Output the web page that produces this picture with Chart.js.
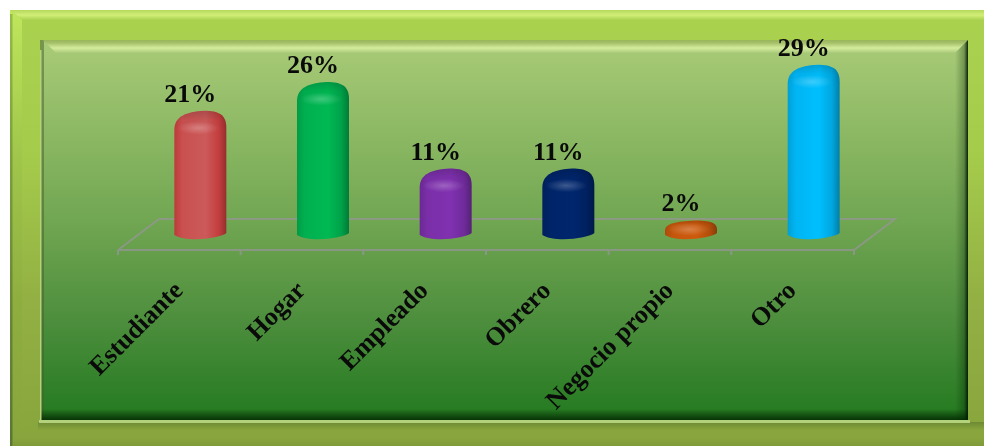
<!DOCTYPE html>
<html lang="es">
<head>
    <meta charset="UTF-8">
    <title>Ocupación</title>
    <script src="https://cdn.jsdelivr.net/npm/chart.js"></script>
    <style>
        html, body { margin: 0; padding: 0; background: #fff; overflow: hidden; }
        #wrap { position: relative; width: 984px; height: 446px; }
    </style>
</head>
<body>
    <div id="wrap"><canvas id="myChart" width="984" height="446"></canvas></div>
    <script>
        const categories = ['Estudiante', 'Hogar', 'Empleado', 'Obrero', 'Negocio propio', 'Otro'];
        const percentages = [21, 26, 11, 11, 2, 29];
        const barColors = ['#c9504f', '#00b050', '#7a2fa8', '#002468', '#c4560c', '#00b4f2'];

        const serif = '"Liberation Serif", "Times New Roman", serif';
        const shade = (c, k) => k > 0 ? Chart.helpers.color(c).lighten(k).rgbString() : Chart.helpers.color(c).darken(-k).rgbString();

        // bar element drawn as a standing cylinder with a rounded cap
        class CylinderElement extends Chart.BarElement {
            draw(ctx) {
                const { x, y, base, width } = this.getProps(['x', 'y', 'base', 'width']);
                const color = this.options.backgroundColor;
                const r = width / 2;
                const dome = Math.min(19, (base - y) * 0.85);
                const peak = x + r * 0.15;

                ctx.save();
                ctx.beginPath();
                ctx.moveTo(x - r, base + 3);
                ctx.lineTo(x - r, y + dome);
                ctx.bezierCurveTo(x - r, y + dome * 0.3, x - r * 0.55, y + 1, peak, y);
                ctx.bezierCurveTo(x + r * 0.7, y, x + r, y + dome * 0.2, x + r, y + dome * 0.9);
                ctx.lineTo(x + r, base + 1);
                ctx.bezierCurveTo(x + r * 0.8, base + 6, x - r * 0.5, base + 11, x - r, base + 3);
                ctx.closePath();

                const body = ctx.createLinearGradient(x - r, 0, x + r, 0);
                body.addColorStop(0, shade(color, -0.12));
                body.addColorStop(0.15, color);
                body.addColorStop(0.6, shade(color, 0.05));
                body.addColorStop(0.85, shade(color, -0.08));
                body.addColorStop(1, shade(color, -0.3));
                ctx.fillStyle = body;
                ctx.fill();
                ctx.clip();

                // darker rim along the top, soft glint just below it
                const rim = ctx.createLinearGradient(0, y, 0, y + dome);
                rim.addColorStop(0, 'rgba(0,0,0,0.16)');
                rim.addColorStop(0.5, 'rgba(0,0,0,0.03)');
                rim.addColorStop(1, 'rgba(0,0,0,0)');
                ctx.fillStyle = rim;
                ctx.fillRect(x - r, y, width, dome);

                ctx.translate(x - 2, y + dome * 0.9);
                ctx.scale(1, 0.32);
                const glint = ctx.createRadialGradient(0, 0, 0, 0, 0, r * 0.8);
                glint.addColorStop(0, 'rgba(255,255,255,0.24)');
                glint.addColorStop(1, 'rgba(255,255,255,0)');
                ctx.fillStyle = glint;
                ctx.fillRect(-r, -r, width, width);
                ctx.restore();
            }
        }
        CylinderElement.id = 'cylinder';
        CylinderElement.defaults = Chart.BarElement.defaults;
        CylinderElement.defaultRoutes = Chart.BarElement.defaultRoutes;

        class CylinderController extends Chart.BarController {}
        CylinderController.id = 'cylinder';
        CylinderController.defaults = Object.assign({}, Chart.BarController.defaults, { dataElementType: 'cylinder' });
        CylinderController.overrides = Chart.BarController.overrides;
        Chart.register(CylinderElement, CylinderController);

        function polygon(ctx, pts, fill) {
            ctx.beginPath();
            pts.forEach((p, i) => i ? ctx.lineTo(p[0], p[1]) : ctx.moveTo(p[0], p[1]));
            ctx.closePath();
            ctx.fillStyle = fill;
            ctx.fill();
        }

        function vGrad(ctx, y0, y1, stops) {
            const g = ctx.createLinearGradient(0, y0, 0, y1);
            stops.forEach((s, i) => g.addColorStop(i / (stops.length - 1), s));
            return g;
        }

        // beveled lime frame and the green panel behind the plot
        const panelPlugin = {
            id: 'panelPlugin',
            beforeDraw(chart) {
                const ctx = chart.ctx;
                const o = { l: 10, t: 10, r: 984, b: 446 };
                const i = { l: 41, t: 40, r: 968, b: 420 };
                ctx.save();
                ctx.fillStyle = vGrad(ctx, o.t, o.b, ['#aad24f', '#a5cb4b', '#92b043', '#88a53d']);
                ctx.fillRect(o.l, o.t, o.r - o.l, o.b - o.t);
                // top and left bevels of the frame
                polygon(ctx, [[o.l, o.t], [o.r, o.t], [o.r, o.t + 10], [o.l + 12, o.t + 10]], vGrad(ctx, o.t, o.t + 10, ['#b4d85a', '#d2ee78', '#aad24f']));
                polygon(ctx, [[o.l, o.t], [o.l + 12, o.t + 10], [o.l + 12, o.b], [o.l, o.b]], vGrad(ctx, o.t, o.b, ['#bfe65c', '#a0c64b', '#8fae40', '#88a53d']));
                ctx.fillStyle = vGrad(ctx, o.t, o.b, ['rgba(110,150,50,0.5)', 'rgba(80,105,50,0.8)']);
                ctx.fillRect(o.l, o.t + 4, 2.5, o.b - o.t - 4);
                // shadow cast below the panel, darker base strip
                ctx.fillStyle = vGrad(ctx, i.b + 2, i.b + 10, ['#6e8a33', '#88a53d']);
                ctx.fillRect(i.l - 3, i.b + 2, o.r - i.l + 3, 8);
                ctx.fillStyle = vGrad(ctx, 438, 446, ['#88a53d', '#7e9a38']);
                ctx.fillRect(o.l + 3, 438, o.r - o.l - 3, 8);

                // inner panel
                ctx.fillStyle = vGrad(ctx, i.t, i.b, ['#a9cb78', '#8cb863', '#6ea450', '#4b8d3c', '#237a1f']);
                ctx.fillRect(i.l, i.t, i.r - i.l, i.b - i.t);
                ctx.fillStyle = 'rgba(70,95,40,0.5)';
                ctx.fillRect(i.l - 1, i.t, 4, i.b - i.t);
                polygon(ctx, [[i.l + 2, i.t], [i.r, i.t], [i.r - 13, i.t + 13], [i.l + 15, i.t + 13]], vGrad(ctx, i.t - 2, i.t + 13, ['#8fae50', '#a6c16a', '#d4ec9c', '#a9ca7a']));
                const right = ctx.createLinearGradient(i.r - 13, 0, i.r, 0);
                right.addColorStop(0, 'rgba(0,30,0,0)');
                right.addColorStop(0.7, 'rgba(0,30,0,0.3)');
                right.addColorStop(1, 'rgba(0,25,0,0.95)');
                polygon(ctx, [[i.r, i.t], [i.r, i.b], [i.r - 13, i.b], [i.r - 13, i.t + 13]], right);
                ctx.fillStyle = vGrad(ctx, i.b - 11, i.b, ['rgba(0,30,0,0)', 'rgba(0,35,0,0.8)']);
                ctx.fillRect(i.l, i.b - 11, i.r - i.l, 11);
                // pale outline along the bottom and up the left side
                ctx.fillStyle = '#b4d27c';
                ctx.fillRect(i.l - 2, i.b, i.r - i.l + 4, 3);
                ctx.fillRect(i.l - 1, i.t + 10, 1.5, i.b - i.t - 10);
                ctx.restore();
            }
        };

        // floor under the bars, one cell per category, skewed back
        const floorPlugin = {
            id: 'floorPlugin',
            beforeDatasetsDraw(chart) {
                const ctx = chart.ctx;
                const x = chart.scales.x;
                const y0 = chart.scales.y.getPixelForValue(0);
                const frontY = y0 + 18, backY = y0 - 13, frontDx = -21, backDx = 20;
                ctx.save();
                ctx.strokeStyle = 'rgba(150,150,150,0.75)';
                ctx.lineWidth = 2;
                ctx.beginPath();
                ctx.moveTo(x.left + frontDx, frontY);
                ctx.lineTo(x.left + backDx, backY);
                ctx.lineTo(x.right + backDx, backY);
                ctx.lineTo(x.right + frontDx, frontY);
                ctx.lineTo(x.left + frontDx, frontY);
                const cell = (x.right - x.left) / categories.length;
                for (let n = 0; n <= categories.length; n++) {
                    ctx.moveTo(x.left + frontDx + n * cell, frontY);
                    ctx.lineTo(x.left + frontDx + n * cell, frontY + 5);
                }
                ctx.stroke();
                ctx.restore();
            }
        };

        // value above each bar, set a little to the left as in a tilted view
        const valueLabels = {
            id: 'valueLabels',
            afterDatasetsDraw(chart) {
                const ctx = chart.ctx;
                const meta = chart.getDatasetMeta(0);
                ctx.save();
                ctx.font = 'bold 26px ' + serif;
                ctx.fillStyle = '#0a0a0a';
                ctx.textAlign = 'center';
                ctx.textBaseline = 'alphabetic';
                meta.data.forEach((bar, i) => {
                    ctx.fillText(percentages[i] + '%', bar.x - 10, bar.y - 9);
                });
                ctx.restore();
            }
        };

        new Chart(document.getElementById('myChart'), {
            type: 'cylinder',
            data: {
                labels: categories,
                datasets: [{
                    data: percentages,
                    backgroundColor: barColors,
                    barThickness: 52,
                    clip: false
                }]
            },
            options: {
                responsive: false,
                animation: false,
                layout: { padding: { left: 139, right: 109, top: 30, bottom: 0 } },
                plugins: { legend: { display: false }, tooltip: { enabled: false } },
                scales: {
                    x: {
                        grid: { display: false },
                        border: { display: false },
                        afterFit: s => { s.height = 446 - 232; },
                        ticks: {
                            autoSkip: false,
                            minRotation: 45,
                            maxRotation: 45,
                            padding: 36,
                            labelOffset: -21,
                            color: '#0a0a0a',
                            font: { family: serif, weight: 'bold', size: 26 }
                        }
                    },
                    y: { display: false, min: 0, max: 35 }
                }
            },
            plugins: [panelPlugin, floorPlugin, valueLabels]
        });
    </script>
</body>
</html>
